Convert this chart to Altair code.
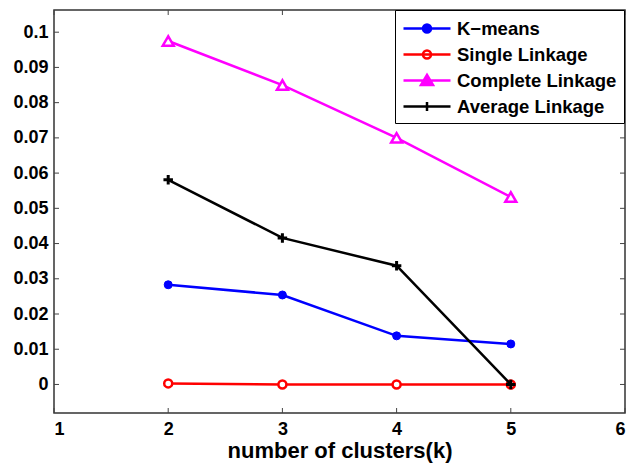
import altair as alt
import pandas as pd

# Clustering error vs. number of clusters for four methods
clusters = [2, 3, 4, 5]
kmeans = [0.0283, 0.0254, 0.0138, 0.0115]
single_linkage = [0.0003, 0.0, 0.0, 0.0]
complete_linkage = [0.0975, 0.0850, 0.0700, 0.0532]
average_linkage = [0.0581, 0.0416, 0.0337, 0.0]

series = ["K\u2212means", "Single Linkage", "Complete Linkage", "Average Linkage"]
x_ticks = [1, 2, 3, 4, 5, 6]
y_ticks = [0, 0.01, 0.02, 0.03, 0.04, 0.05, 0.06, 0.07, 0.08, 0.09, 0.1]

line_colors = ["#0000ff", "#ff0000", "#ff00ff", "#000000"]
legend_fills = ["#0000ff", "#ffffff", "#ff00ff", "#000000"]

# legend glyphs: a short line segment with the series marker on it
legend_shapes = [
    "M-1,0H3.7M1.75,0A0.4,0.4,0,1,1,0.95,0A0.4,0.4,0,1,1,1.75,0Z",
    "M-1,0H3.7M1.75,0A0.4,0.4,0,1,1,0.95,0A0.4,0.4,0,1,1,1.75,0Z",
    "M-1,0H3.7M1.35,-0.55L1.95,0.45L0.75,0.45Z",
    "M-1,0H3.7M1.35,-0.45V0.45",
]

W, H = 571, 403
FONT = "Liberation Sans"

rows = []
for name, vals in zip(series, [kmeans, single_linkage, complete_linkage, average_linkage]):
    for k, v in zip(clusters, vals):
        rows.append({"series": name, "k": k, "value": v})
df = pd.DataFrame(rows)

xs = alt.Scale(domain=[1, 6], nice=False, zero=False)
ys = alt.Scale(domain=[-0.0081, 0.1063], nice=False, zero=False)

x_axis = alt.Axis(values=x_ticks, format="d", ticks=False, domain=False, grid=False,
                  labelFont=FONT, labelFontSize=18, labelFontWeight="bold", labelColor="#000",
                  labelPadding=7, title="number of clusters(k)", titleFont=FONT,
                  titleFontSize=22, titleFontWeight="bold", titleColor="#000", titlePadding=2)
y_axis = alt.Axis(values=y_ticks, format="~g", ticks=False, domain=False, grid=False,
                  labelFont=FONT, labelFontSize=18, labelFontWeight="bold", labelColor="#000",
                  labelPadding=6, title=None)

X = alt.X("k:Q", scale=xs, axis=x_axis)
Y = alt.Y("value:Q", scale=ys, axis=y_axis)

marker_specs = [
    dict(shape="circle", size=64, fill="#0000ff", strokeWidth=1),
    dict(shape="circle", size=64, fill="#ffffff", strokeWidth=2.5),
    dict(shape="triangle-up", size=120, fill="#ffffff", strokeWidth=2.5),
    dict(shape="M-1,0H1M0,-1V1", size=90, fill="transparent", strokeWidth=3),
]

layers = []
for name, col, spec in zip(series, line_colors, marker_specs):
    sub = df[df["series"] == name]
    layers.append(alt.Chart(sub).mark_line(color=col, strokeWidth=2.5).encode(x=X, y=Y))
    layers.append(
        alt.Chart(sub).mark_point(
            shape=spec["shape"], size=spec["size"], fill=spec["fill"], fillOpacity=1,
            stroke=col, strokeWidth=spec["strokeWidth"], opacity=1,
        ).encode(x=X, y=Y)
    )

# inward tick marks on all four sides
xt = pd.DataFrame({"k": x_ticks})
yt = pd.DataFrame({"value": y_ticks})
tick_style = dict(color="#444444", strokeWidth=1)
layers += [
    alt.Chart(yt).mark_rule(**tick_style).encode(y=Y, x=alt.value(0), x2=alt.value(5)),
    alt.Chart(yt).mark_rule(**tick_style).encode(y=Y, x=alt.value(W - 5), x2=alt.value(W)),
    alt.Chart(xt).mark_rule(**tick_style).encode(x=X, y=alt.value(H), y2=alt.value(H - 5)),
    alt.Chart(xt).mark_rule(**tick_style).encode(x=X, y=alt.value(0), y2=alt.value(5)),
]

# legend-only layer (no rows drawn)
legend_layer = alt.Chart(pd.DataFrame({"series": series, "k": [2] * 4, "value": [0] * 4})).transform_filter(
    "false"
).mark_point(size=400, strokeWidth=2.5, opacity=1).encode(
    x=X, y=Y,
    stroke=alt.Stroke("series:N", scale=alt.Scale(domain=series, range=line_colors),
                      legend=alt.Legend(title=None)),
    fill=alt.Fill("series:N", scale=alt.Scale(domain=series, range=legend_fills),
                  legend=alt.Legend(title=None)),
    shape=alt.Shape("series:N", scale=alt.Scale(domain=series, range=legend_shapes),
                    legend=alt.Legend(title=None)),
)
layers.append(legend_layer)

chart = alt.layer(*layers).properties(
    width=W, height=H,
    autosize=alt.AutoSizeParams(type="none"),
    padding={"left": 54, "top": 10, "right": 7, "bottom": 53},
    background="white",
).configure_view(
    stroke="#333333", strokeWidth=1.5
).configure_legend(
    orient="none", legendX=341, legendY=0,
    strokeColor="#000000", fillColor="#ffffff", padding=7, cornerRadius=0,
    symbolSize=400, symbolStrokeWidth=2.5, symbolOpacity=1,
    labelFont=FONT, labelFontSize=18.5, labelFontWeight="bold", labelColor="#000",
    labelOffset=32, rowPadding=5, labelLimit=300,
)

chart.save("out.html", embed_options={"renderer": "svg", "actions": False})
